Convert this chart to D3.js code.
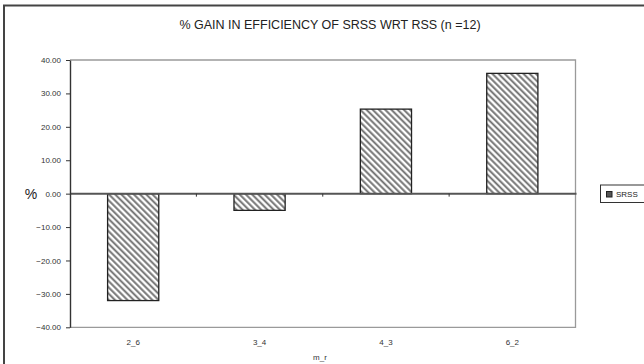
<!DOCTYPE html>
<html><head><meta charset="utf-8">
<script src="https://cdn.jsdelivr.net/npm/d3@7"></script>
<style>body{margin:0;background:#fff}svg{display:block;font-family:"Liberation Sans",Arial,sans-serif}</style>
</head><body><svg id="c" width="644" height="364"></svg>
<script>
const categories = ["2_6","3_4","4_3","6_2"];
const srss = [-32.0, -5.0, 25.3, 36.0];
const yTicks = [40,30,20,10,0,-10,-20,-30,-40];
const title = "% GAIN IN EFFICIENCY OF SRSS WRT RSS (n =12)";

const svg = d3.select("#c");
const defs = svg.append("defs");
const pat = defs.append("pattern").attr("id","hatch").attr("patternUnits","userSpaceOnUse")
  .attr("width",4.4).attr("height",4.4).attr("patternTransform","rotate(-45)");
pat.append("rect").attr("width",4.4).attr("height",4.4).attr("fill","#fff");
pat.append("line").attr("x1",1.2).attr("x2",1.2).attr("y1",0).attr("y2",4.4).attr("stroke","#6e6e6e").attr("stroke-width",1.9);

// outer border
svg.append("path").attr("d","M4,370 L4,5.5 L650,5.5").attr("fill","none").attr("stroke","#444").attr("stroke-width",2);

svg.append("text").attr("x",330).attr("y",29).attr("text-anchor","middle").attr("font-size",12.5).attr("fill","#222").text(title);

const L=70,R=575.5,T=60,B=327.3;
const x = d3.scaleBand().domain(categories).range([L,R]);
const y = d3.scaleLinear().domain([-40,40]).range([B,T]);

// plot frame
svg.append("path").attr("d",`M${L},${T} H${R} V${B} H${L}`).attr("fill","none").attr("stroke","#9a9a9a").attr("stroke-width",1.3);

// bars
const bw = x.bandwidth()*0.405;
svg.selectAll("rect.bar").data(srss).join("rect").attr("class","bar")
  .attr("x",(d,i)=>x(categories[i])+x.bandwidth()/2-bw/2)
  .attr("width",bw)
  .attr("y",d=>y(Math.max(0,d)))
  .attr("height",d=>Math.abs(y(d)-y(0)))
  .attr("fill","url(#hatch)").attr("stroke","#222").attr("stroke-width",1.3);

// zero line
svg.append("line").attr("x1",L).attr("x2",R+1).attr("y1",y(0)).attr("y2",y(0)).attr("stroke","#555").attr("stroke-width",2);
// category boundary ticks
svg.selectAll("line.ct").data(categories.slice(1)).join("line").attr("class","ct")
  .attr("x1",d=>x(d)).attr("x2",d=>x(d)).attr("y1",y(0)).attr("y2",y(0)+3).attr("stroke","#333");

// y axis
const ya = d3.axisLeft(y).tickValues(yTicks).tickFormat(d3.format(".2f")).tickSize(4).tickSizeOuter(0);
const g = svg.append("g").attr("transform",`translate(${L},0)`).call(ya);
g.select(".domain").attr("stroke","#333").attr("stroke-width",1.4);
g.selectAll(".tick line").attr("stroke","#333");
g.selectAll(".tick text").attr("font-size",8).attr("fill","#333").attr("x",-9).attr("font-family","\"Liberation Sans\",Arial,sans-serif");

svg.append("text").attr("x",31).attr("y",y(0)+5).attr("text-anchor","middle").attr("font-size",14).attr("fill","#222").text("%");

// x labels
svg.selectAll("text.xl").data(categories).join("text").attr("class","xl")
  .attr("x",d=>x(d)+x.bandwidth()/2).attr("y",345).attr("text-anchor","middle")
  .attr("font-size",8).attr("fill","#333").text(d=>d);
svg.append("text").attr("x",320).attr("y",360).attr("text-anchor","middle").attr("font-size",8).attr("fill","#333").text("m_r");

// legend
const lg = svg.append("g");
lg.append("rect").attr("x",600.5).attr("y",185).attr("width",50).attr("height",17.5).attr("fill","#fff").attr("stroke","#333").attr("stroke-width",1);
lg.append("rect").attr("x",606.5).attr("y",191.5).attr("width",5.5).attr("height",5.5).attr("fill","#555").attr("stroke","#222");
lg.append("text").attr("x",616).attr("y",197).attr("font-size",8).attr("fill","#222").text("SRSS");
</script></body></html>
